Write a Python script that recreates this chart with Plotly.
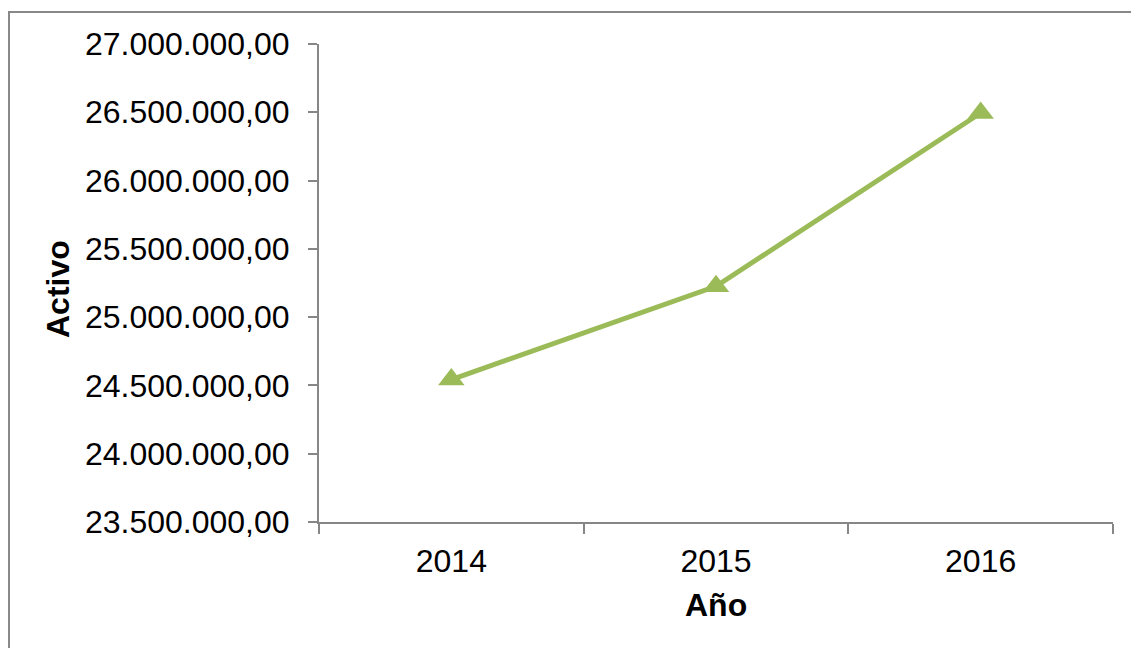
import plotly.graph_objects as go

years = ["2014", "2015", "2016"]
activo = [24543000, 25226000, 26495000]

W, H = 1131, 648
L, R, T, B = 319, 18, 44, 126
pw, ph = W - L - R, H - T - B

fig = go.Figure()
fig.add_trace(go.Scatter(
    x=years, y=activo, mode="lines+markers",
    line=dict(color="#9BBB59", width=5),
    marker=dict(symbol="triangle-up", size=23, color="#9BBB59"),
    showlegend=False, cliponaxis=False,
))

axis_col = "#868686"
font = "Liberation Sans, Arial, sans-serif"
fs = 32

fig.update_layout(
    width=W, height=H,
    margin=dict(l=L, r=R, t=T, b=B, autoexpand=False),
    paper_bgcolor="white", plot_bgcolor="white",
    separators=",.",
    font=dict(family=font, size=fs, color="black"),
    xaxis=dict(
        type="category", range=[-0.5, 2.5], tickson="boundaries",
        showgrid=False, zeroline=False,
        showline=True, linecolor=axis_col, linewidth=2,
        ticks="outside", ticklen=10, tickwidth=2, tickcolor=axis_col,
        tickfont=dict(family=font, size=fs, color="black"),
        ticklabelstandoff=10,
        automargin=False,
    ),
    yaxis=dict(
        range=[23500000, 27000000], dtick=500000, tick0=23500000,
        tickformat=",.2f",
        showgrid=False, zeroline=False,
        showline=True, linecolor=axis_col, linewidth=2,
        ticks="outside", ticklen=9, tickwidth=2, tickcolor=axis_col,
        tickfont=dict(family=font, size=fs, color="black"),
        ticklabelstandoff=12,
        automargin=False,
    ),
)

# axis titles
fig.add_annotation(text="<b>Activo</b>", xref="paper", yref="paper",
                   x=(58 - L) / pw, y=(H - B - 289) / ph, textangle=-90,
                   xanchor="center", yanchor="middle", showarrow=False,
                   font=dict(family=font, size=fs, color="black"))
fig.add_annotation(text="<b>Año</b>", xref="paper", yref="paper",
                   x=(716 - L) / pw, y=(H - B - 605) / ph,
                   xanchor="center", yanchor="middle", showarrow=False,
                   font=dict(family=font, size=fs, color="black"))

# outer chart border (only left and top visible in frame)
x_left = (9 - L) / pw
x_right = (W + 5 - L) / pw
y_top = (H - B - 12) / ph
y_bot = (H - B - (H + 5)) / ph
fig.add_shape(type="rect", xref="paper", yref="paper",
              x0=x_left, x1=x_right, y0=y_bot, y1=y_top,
              line=dict(color="#888888", width=2), fillcolor="rgba(0,0,0,0)", layer="below")

fig.write_html("out.html")
